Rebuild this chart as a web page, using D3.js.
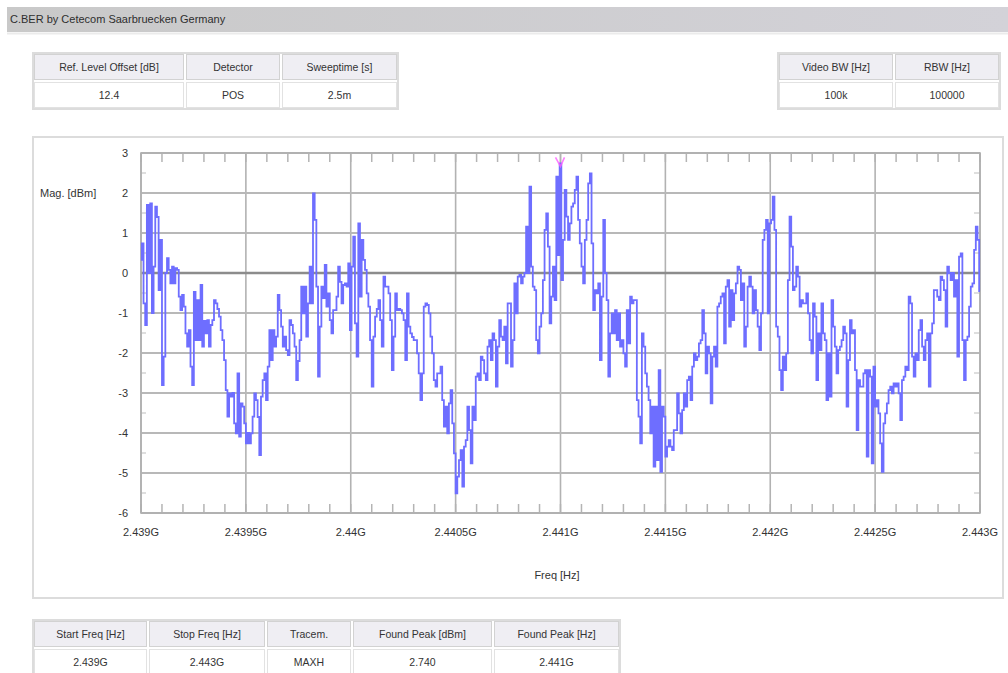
<!DOCTYPE html>
<html>
<head>
<meta charset="utf-8">
<script src="https://cdn.jsdelivr.net/npm/d3@7/dist/d3.min.js"></script>
<style>
  body { margin: 0; background: #fff; }
  svg { display: block; font-family: "Liberation Sans", Arial, sans-serif; }
</style>
</head>
<body>
<svg id="chart" width="1008" height="673"></svg>
<script>
// C.BER spectrum plot — Cetecom

const title = "C.BER by Cetecom Saarbruecken Germany";

// sweep
const startHz = 2.439e9;
const stopHz = 2.443e9;
const sweepPoints = 501;

// axes
const yTicks = [3, 2, 1, 0, -1, -2, -3, -4, -5, -6];
const xTickHz = [2.439e9, 2.4395e9, 2.44e9, 2.4405e9, 2.441e9, 2.4415e9, 2.442e9, 2.4425e9, 2.443e9];
const xTickLabels = ["2.439G", "2.4395G", "2.44G", "2.4405G", "2.441G", "2.4415G", "2.442G", "2.4425G", "2.443G"];

// MAXH trace, dBm per sweep point
const traceDbm = [
  0.33, 0.74, -0.76, -1.3, 1.7, 0, 1.74, -1.0, 0.16, 1.66,
  1.4, -0.43, 0.83, -2.8, -2.09, 0, 0.37, 0.08, -0.26, 0.16,
  -0.26, 0.12, 0.08, -0.59, -0.93, -0.55, -0.84, -1.51, -1.84, -1.43,
  -2.34, -2.8, -0.47, -1.68, -0.68, -1.68, -0.3, -1.84, -1.2, -1.51,
  -1.18, -1.84, -1.3, -1.18, -0.68, -0.76, -0.9, -1.09, -1.43, -1.68,
  -2.18, -2.93, -3.59, -3.01, -3.09, -3.0, -3.76, -4.01, -2.51, -4.09,
  -3.26, -3.34, -3.76, -4.26, -4.0, -4.26, -4.01, -3.59, -3.01, -3.18,
  -3.6, -4.55, -3.09, -2.68, -2.51, -3.18, -2.34, -1.43, -2.18, -1.43,
  -1.84, -1.59, -0.55, -0.93, -1.34, -1.84, -1.59, -1.93, -2.05, -1.18,
  -1.3, -1.51, -1.84, -2.68, -2.2, -1.68, -0.34, -1.01, -0.34, -1.59,
  -0.76, 0.16, -0.76, 1.99, 1.33, -0.34, -2.59, -1.34, -0.34, -0.63,
  0.2, -0.84, -0.51, -1.18, -1.51, -0.93, -0.93, -0.59, 0.16, -0.22,
  -0.76, -0.3, -0.26, -0.34, 0.24, -1.43, 0.16, 0.91, -1.26, -2.09,
  1.24, -0.59, 0.83, 0.33, 0.08, -0.51, -0.84, -1.68, -2.84, -1.59,
  -1.09, -0.9, -0.68, -1.18, -1.84, -0.09, -0.34, -0.34, -0.51, -1.18,
  -2.43, -1.59, -0.51, -0.93, -0.9, -0.93, -1.01, -1.18, -2.18, -0.51,
  -1.34, -1.51, -1.6, -1.68, -1.68, -2.01, -2.51, -3.18, -2.51, -0.84,
  -0.76, -0.8, -1.01, -1.59, -2.01, -2.68, -2.84, -2.51, -2.51, -2.34,
  -3.18, -3.84, -3.34, -4.01, -3.26, -2.93, -3.76, -4.51, -5.51, -5.09,
  -4.68, -4.43, -5.34, -4.34, -4.18, -3.34, -3.93, -4.76, -3.34, -3.68,
  -2.59, -2.51, -2.68, -2.09, -2.18, -2.51, -2.68, -1.84, -1.68, -2.18,
  -1.51, -1.68, -2.84, -1.84, -1.18, -1.59, -1.68, -1.34, -2.26, -0.76,
  -0.76, -2.34, -1.68, -0.26, -1.01, -0.09, -0.05, -0.26, -0.09, 0,
  1.16, 0, 2.16, 0.16, -0.34, -0.43, -1.68, -2.01, -1.34, -1.01,
  -0.18, 1.08, 1.49, 0.66, -1.26, -0.59, 0.16, -0.68, 2.41, 0.45,
  2.74, -0.18, 0.83, 2.08, 1.41, 0.83, 1.24, 1.66, 1.74, 2.08,
  2.41, 1.33, 0.74, 0.16, -0.26, 0.83, 1.33, 2.24, 2.49, 0.74,
  -0.93, -0.43, -0.51, -0.26, -2.18, -0.59, 1.33, 0, -0.68, -2.59,
  -1.51, -1.01, -1.51, -0.93, -1.68, -1.01, -1.84, -1.68, -2.01, -2.34,
  -0.93, -1.76, -0.59, -0.76, -0.68, -0.68, -3.18, -3.59, -4.26, -1.51,
  -1.84, -2.51, -2.84, -3.18, -4.01, -3.34, -4.84, -3.34, -4.68, -2.43,
  -4.97, -3.34, -3.59, -4.59, -4.34, -4.18, -4.34, -4.43, -3.93, -3.93,
  -3.01, -3.51, -4.01, -3.43, -3.01, -3.34, -2.68, -2.59, -3.18, -2.34,
  -2.01, -2.18, -2.09, -1.76, -1.68, -0.93, -1.51, -2.51, -1.84, -2.01,
  -3.26, -2.09, -1.84, -2.34, -0.84, -0.76, -0.59, -0.51, -1.76, -0.34,
  -0.18, -1.34, -0.43, -1.18, -0.51, -0.26, 0.16, 0.08, -0.68, -0.26,
  -1.84, -1.34, -0.34, -0.09, -0.34, -1.01, -0.43, -0.93, -1.34, -1.93,
  -1.01, 0.83, 1.08, 1.33, -1.01, 1.24, 1.33, 1.91, 1.08, -1.34,
  -1.59, -2.43, -2.93, -2.09, -2.43, -2.01, -0.18, 1.41, 0.66, -0.43,
  -0.34, 0.16, -0.09, -0.84, -0.68, -0.76, -0.76, -0.51, -1.01, -1.68,
  -2.01, -0.76, -1.09, -2.68, -1.51, -1.93, -0.76, -1.51, -1.68, -3.18,
  -2.01, -3.09, -0.68, -1.34, -1.84, -2.51, -1.93, -1.84, -1.68, -1.34,
  -1.51, -3.34, -2.18, -1.18, -1.51, -1.43, -2.43, -3.93, -2.68, -2.84,
  -2.84, -2.51, -2.43, -4.59, -2.43, -2.59, -4.76, -2.34, -3.34, -3.18,
  -3.51, -4.26, -4.97, -3.76, -3.51, -3.26, -2.93, -2.84, -3.01, -2.76,
  -2.84, -2.76, -3.01, -3.68, -2.68, -2.59, -2.34, -2.43, -0.59, -0.76,
  -2.09, -2.59, -2.01, -2.18, -1.43, -1.18, -1.84, -2.18, -1.68, -1.51,
  -2.84, -1.51, -1.26, -0.43, -0.43, -0.59, -0.68, -0.09, -0.18, -0.43,
  -1.34, 0.16, 0, -0.18, 0, -0.59, -0.18, -2.09, 0.41, 0.49,
  -1.68, -2.68, -1.68, -1.59, -0.84, -0.34, -0.26, 0.58, 1.16, 0.83,
  -0.45
];

const peakHz = 2.441e9;
const peakDbm = 2.74;

// info tables
const settingHeads = ["Ref. Level Offset [dB]", "Detector", "Sweeptime [s]"];
const settingVals = ["12.4", "POS", "2.5m"];
const bwHeads = ["Video BW [Hz]", "RBW [Hz]"];
const bwVals = ["100k", "100000"];
const resultHeads = ["Start Freq [Hz]", "Stop Freq [Hz]", "Tracem.", "Found Peak [dBm]", "Found Peak [Hz]"];
const resultVals = ["2.439G", "2.443G", "MAXH", "2.740", "2.441G"];

const svg = d3.select("#chart");

// ---------- title bar ----------
const defs = svg.append("defs");
const grad = defs.append("linearGradient").attr("id", "bar-grad");
grad.append("stop").attr("offset", "0%").attr("stop-color", "#c9c9c9");
grad.append("stop").attr("offset", "100%").attr("stop-color", "#d3d2d8");

svg.append("rect")
  .attr("x", 7).attr("y", 7).attr("width", 1001).attr("height", 25)
  .attr("fill", "url(#bar-grad)");
svg.append("text")
  .attr("x", 10).attr("y", 23)
  .attr("font-size", 11).attr("fill", "#2e2e2e")
  .text(title);
svg.append("line")
  .attr("x1", 7).attr("x2", 1008).attr("y1", 33.5).attr("y2", 33.5)
  .attr("stroke", "#ebebeb").attr("stroke-width", 2);

// ---------- tables ----------
function drawTable(edges, y0, heads, vals) {
  const g = svg.append("g");
  const rowH = 28;
  g.append("rect")
    .attr("x", edges[0]).attr("y", y0)
    .attr("width", edges[edges.length - 1] - edges[0]).attr("height", rowH * 2)
    .attr("fill", "#fff").attr("stroke", "#dcdcdc").attr("stroke-width", 2);

  heads.forEach((h, i) => {
    const x0 = edges[i], x1 = edges[i + 1];
    g.append("rect")
      .attr("x", x0 + 1.5).attr("y", y0 + 1.5)
      .attr("width", x1 - x0 - 3).attr("height", rowH - 3)
      .attr("fill", "#efeef3").attr("stroke", "#d2d2d2");
    g.append("rect")
      .attr("x", x0 + 1.5).attr("y", y0 + rowH + 1.5)
      .attr("width", x1 - x0 - 3).attr("height", rowH - 3)
      .attr("fill", "#fff").attr("stroke", "#e2e2e2");
    g.append("text")
      .attr("x", (x0 + x1) / 2).attr("y", y0 + rowH / 2 + 4)
      .attr("text-anchor", "middle").attr("font-size", 10.5).attr("fill", "#333")
      .text(h);
    g.append("text")
      .attr("x", (x0 + x1) / 2).attr("y", y0 + rowH * 1.5 + 4)
      .attr("text-anchor", "middle").attr("font-size", 10.5).attr("fill", "#333")
      .text(vals[i]);
  });
}

drawTable([33, 185, 281, 398], 53, settingHeads, settingVals);
drawTable([778, 894, 1000], 53, bwHeads, bwVals);
drawTable([33, 148, 266, 352, 493, 620], 620, resultHeads, resultVals);

// ---------- chart panel ----------
svg.append("rect")
  .attr("x", 33).attr("y", 137).attr("width", 970).attr("height", 461)
  .attr("fill", "#fff").attr("stroke", "#dcdcdc").attr("stroke-width", 2);

const plot = { left: 141, right: 980, top: 153, bottom: 513 };

const x = d3.scaleLinear().domain([startHz, stopHz]).range([plot.left, plot.right]);
const y = d3.scaleLinear().domain([-6, 3]).range([plot.bottom, plot.top]);

const grid = svg.append("g");

// minor x ticks (100 kHz) on top and bottom frame
const minorX = d3.range(startHz, stopHz + 1, 1e5);
grid.selectAll(".mxt").data(minorX).enter().append("line")
  .attr("x1", d => x(d)).attr("x2", d => x(d))
  .attr("y1", plot.top).attr("y2", plot.top + 9)
  .attr("stroke", "#b4b4b4").attr("stroke-width", 1.5);
grid.selectAll(".mxb").data(minorX).enter().append("line")
  .attr("x1", d => x(d)).attr("x2", d => x(d))
  .attr("y1", plot.bottom - 9).attr("y2", plot.bottom)
  .attr("stroke", "#b4b4b4").attr("stroke-width", 1.5);

// minor y ticks at half dB
const minorY = yTicks.slice(1).map(v => v + 0.5);
grid.selectAll(".myl").data(minorY).enter().append("line")
  .attr("x1", plot.left).attr("x2", plot.left + 5)
  .attr("y1", d => y(d)).attr("y2", d => y(d))
  .attr("stroke", "#c8c8c8").attr("stroke-width", 1.2);
grid.selectAll(".myr").data(minorY).enter().append("line")
  .attr("x1", plot.right - 6).attr("x2", plot.right)
  .attr("y1", d => y(d)).attr("y2", d => y(d))
  .attr("stroke", "#c8c8c8").attr("stroke-width", 1.2);

// major vertical grid
grid.selectAll(".vg").data(xTickHz).enter().append("line")
  .attr("x1", d => x(d)).attr("x2", d => x(d))
  .attr("y1", plot.top).attr("y2", plot.bottom)
  .attr("stroke", "#b2b2b2").attr("stroke-width", 1.6);

// horizontal grid
grid.selectAll(".hg").data(yTicks).enter().append("line")
  .attr("x1", plot.left).attr("x2", plot.right)
  .attr("y1", d => y(d)).attr("y2", d => y(d))
  .attr("stroke", d => d === 0 ? "#8c8c8c" : "#b8b8b8")
  .attr("stroke-width", d => d === 0 ? 2.6 : 2.2);

// frame
svg.append("rect")
  .attr("x", plot.left).attr("y", plot.top)
  .attr("width", plot.right - plot.left).attr("height", plot.bottom - plot.top)
  .attr("fill", "none").attr("stroke", "#b0b0b0").attr("stroke-width", 1.6);

// ---------- trace ----------
const hzStep = (stopHz - startHz) / (sweepPoints - 1);
const line = d3.line()
  .x((d, i) => x(startHz + i * hzStep))
  .y(d => y(d))
  .curve(d3.curveStep);

svg.append("path")
  .datum(traceDbm)
  .attr("d", line)
  .attr("fill", "none")
  .attr("stroke", "#6e6eff")
  .attr("stroke-width", 1.8);

// peak marker
const px = x(peakHz), py = y(peakDbm);
svg.append("path")
  .attr("d", `M${px - 5},${py - 6} L${px},${py + 3} L${px + 4},${py - 6}`)
  .attr("fill", "none").attr("stroke", "#ff5cff").attr("stroke-width", 1.6)
  .attr("opacity", 0.8);

// ---------- axis labels ----------
const labels = svg.append("g").attr("font-size", 11).attr("fill", "#333");

labels.selectAll(".yl").data(yTicks).enter().append("text")
  .attr("x", 128).attr("y", d => y(d) + 4)
  .attr("text-anchor", "end")
  .text(d => d);

labels.selectAll(".xl").data(xTickHz).enter().append("text")
  .attr("x", d => x(d)).attr("y", 536)
  .attr("text-anchor", "middle")
  .text((d, i) => xTickLabels[i]);

labels.append("text")
  .attr("x", 40).attr("y", y(2) + 4)
  .text("Mag. [dBm]");

labels.append("text")
  .attr("x", 557).attr("y", 579)
  .attr("text-anchor", "middle")
  .text("Freq [Hz]");
</script>
</body>
</html>
